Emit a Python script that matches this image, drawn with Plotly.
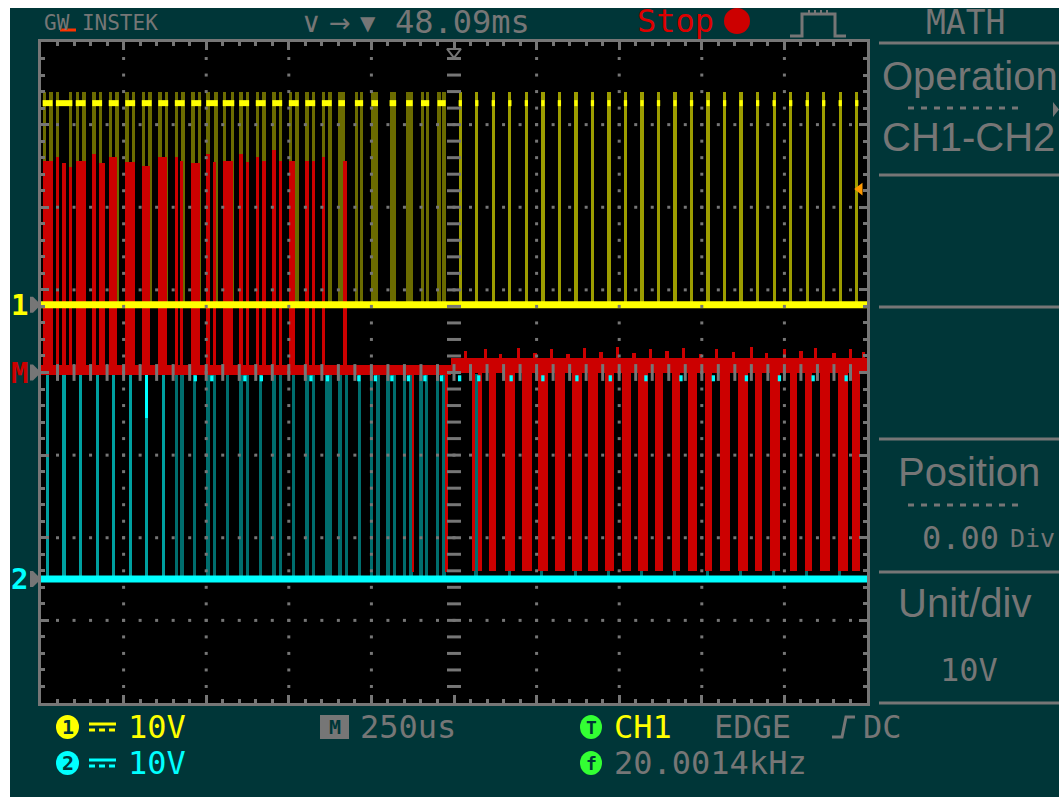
import numpy as np
import plotly.graph_objects as go

# ---------------------------------------------------------------- screen
W, H = 1059, 797
GRID_L, GRID_R, GRID_T, GRID_B = 41, 867, 42, 703

US_PER_DIV = 250          # time base
V_PER_DIV = 10            # both channels and math at 10 V/div
H_DIVS, V_DIVS = 10, 8
LCD_COL_US = 10           # one LCD column of the scope display

# vertical positions of the traces (divisions from screen centre)
CH1_POS_DIV = 0.82
CH2_POS_DIV = -2.5
MATH_POS_DIV = 0.0

CH1_HIGH_V, CH1_PEAK_V = 24.4, 25.8
CH2_HIGH_V, CH2_PEAK_V = 24.3, 24.8
TRIG_LEVEL_V = 14.0

# ---------------------------------------------------------------- CH1 pulses (us)
ch1_rise_us = [5, 45, 105, 155, 205, 255, 305, 355, 405, 455, 500, 550, 600, 650, 700,
               750, 800, 850, 900, 950, 1000, 1055, 1105, 1150, 1200,
               1264, 1314, 1364, 1414, 1464, 1514, 1564, 1614, 1664, 1714, 1764, 1814,
               1864, 1914, 1964, 2014, 2064, 2114, 2164, 2214, 2264, 2314, 2364, 2414, 2464]
ch1_fall_us = [35, 95, 135, 185, 235, 285, 335, 385, 435, 485, 535, 585, 630, 680, 730,
               780, 830, 880, 920, 975, 1020, 1075, 1125, 1175, 1225,
               1273, 1323, 1373, 1423, 1473, 1523, 1573, 1623, 1673, 1723, 1773, 1823,
               1873, 1923, 1973, 2023, 2073, 2123, 2173, 2223, 2273, 2323, 2373, 2423, 2473]

# ---------------------------------------------------------------- CH2 pulses (us)
ch2_rise_us = [15, 65, 115, 165, 215, 265, 315, 365, 405, 460, 500, 560, 600, 660, 700,
               760, 800, 860, 900, 960, 995, 1045, 1095, 1145, 1195,
               1312, 1412, 1510, 1612, 1712, 1812, 1912, 2012, 2112, 2212, 2312, 2412]
ch2_fall_us = [22, 72, 122, 172, 222, 272, 322, 372, 432, 470, 530, 568, 630, 668, 730,
               768, 830, 880, 930, 968, 1025, 1075, 1125, 1172, 1225,
               1322, 1422, 1520, 1622, 1722, 1822, 1922, 2022, 2122, 2222, 2322, 2422]
# bright CH2 high-level dots that show at the top of the pulses
ch2_top_us = [462, 512, 612, 662, 812, 862, 957, 1007, 1057, 1107, 1157, 1207,
              1262, 1320, 1418, 1514, 1617, 1718, 1826, 1932, 2030, 2130, 2230, 2332, 2432]
# a bright stretch of one falling edge
ch2_bright_edge_us = [315]
ch2_bright_edge_low_v = [19.5]
CH2_BRIGHT_EDGES_BEFORE_US = 400

# ---------------------------------------------------------------- MATH (CH1-CH2) blocks
math_start_us = [5, 45, 65, 85, 105, 155, 175, 205, 255, 305, 355, 405, 420, 455, 500,
                 520, 550, 600, 620, 650, 670, 700, 720, 750, 800, 820, 850, 915,
                 1122, 1222, 1304, 1322, 1356, 1404, 1456, 1504, 1556, 1607, 1656, 1707,
                 1758, 1807, 1858, 1910, 1958, 2010, 2055, 2110, 2161, 2206, 2267, 2312,
                 2358, 2412, 2455]
math_end_us = [35, 55, 75, 95, 135, 165, 195, 230, 285, 330, 380, 415, 430, 480, 510,
               530, 580, 610, 630, 660, 680, 710, 730, 770, 810, 830, 860, 925,
               1130, 1232, 1313, 1335, 1377, 1435, 1486, 1535, 1586, 1637, 1686, 1734,
               1786, 1837, 1883, 1934, 1986, 2031, 2085, 2140, 2182, 2237, 2288, 2334,
               2388, 2443, 2479]
math_level_v = [25.6, 26.1, 25.3, 24.9, 25.6, 26.5, 25.3, 26.1, 25.5, 25.0, 26.1, 26.1,
                25.6, 25.3, 26.5, 25.5, 25.6, 26.5, 25.5, 26.1, 25.6, 26.9, 25.6, 25.6,
                25.6, 25.6, 26.1, 25.6,
                -24.1, -24.1, -24.0, -24.0, -24.0, -24.0, -24.0, -24.0, -24.0, -24.0,
                -24.0, -24.0, -24.0, -24.0, -24.0, -24.0, -24.0, -24.0, -24.0, -24.0,
                -24.0, -24.0, -24.0, -24.0, -24.0, -24.0, -24.0]
# the noisy band the math trace draws around 0 V
math_band_start_us = [0, 1240]
math_band_end_us = [1240, 2500]
math_band_low_v = [-0.3, 0.0]
math_band_high_v = [0.9, 1.7]
# small excursions above the band
math_bump_start_us = [1240, 1280, 1340, 1385, 1440, 1490, 1540, 1590, 1640, 1690, 1740, 1790,
                      1840, 1890, 1940, 1990, 2040, 2090, 2145, 2190, 2245, 2295, 2340, 2395,
                      2445, 2485]
math_bump_v = [1.8, 2.6, 2.8, 2.2, 3.0, 2.4, 2.9, 2.2, 3.0, 2.5, 3.1, 2.4,
               2.9, 2.6, 3.0, 2.3, 2.8, 2.5, 3.1, 2.4, 2.9, 2.6, 3.0, 2.4, 2.8, 2.5]

# ---------------------------------------------------------------- colours
TEAL_BG = "#003638"
GRAY = "#767676"
YELLOW = "#ffff00"
OLIVE_DIM = "#6b6b00"
OLIVE = "#9c9c00"
CYAN = "#00ffff"
TEAL_LIGHT = "#00a0a0"
TEAL_DIM = "#006e6e"
RED = "#cc0000"
ORANGE = "#ff9900"
GREEN = "#33ff33"
MONO = "DejaVu Sans Mono"
SANS = "Liberation Sans"

T_END = H_DIVS * US_PER_DIV


def vdiv(volts, pos):
    return pos + volts / V_PER_DIV


def fx(px):
    return px / W


def fy(py):
    return 1 - py / H


def edge_columns(rises, falls):
    """Centres of the LCD columns that hold the rising and falling edges."""
    out = []
    for r, f in zip(rises, falls):
        out.append((r + LCD_COL_US / 2, r, f))
        if f - r > LCD_COL_US:
            out.append((f - LCD_COL_US / 2, r, f))
    return out


def level_segments(starts, ends, level):
    xs, ys = [], []
    for s, e in zip(starts, ends):
        xs += [s, max(e, s + LCD_COL_US), None]
        ys += [level, level, None]
    return xs, ys


fig = go.Figure()

# ---------------- CH1
z1 = CH1_POS_DIV
cols = edge_columns(ch1_rise_us, ch1_fall_us)
fig.add_trace(go.Bar(
    x=[c[0] for c in cols], y=[vdiv(CH1_PEAK_V, 0)] * len(cols), base=z1,
    width=LCD_COL_US,
    marker=dict(color=[OLIVE if (f - r) <= LCD_COL_US else OLIVE_DIM for _, r, f in cols],
                line=dict(width=0)),
    hoverinfo="skip", showlegend=False))
fig.add_trace(go.Scatter(x=[0, T_END], y=[z1, z1], mode="lines",
                         line=dict(color=YELLOW, width=7), hoverinfo="skip", showlegend=False))
sx, sy = level_segments(ch1_rise_us, ch1_fall_us, vdiv(CH1_HIGH_V, z1))
fig.add_trace(go.Scatter(x=sx, y=sy, mode="lines", line=dict(color=YELLOW, width=6),
                         hoverinfo="skip", showlegend=False))

# ---------------- CH2 edges (under the math trace)
z2 = CH2_POS_DIV
cols = edge_columns(ch2_rise_us, ch2_fall_us)
fig.add_trace(go.Bar(
    x=[c[0] for c in cols], y=[vdiv(CH2_PEAK_V, 0)] * len(cols), base=z2,
    width=LCD_COL_US,
    marker=dict(color=[TEAL_LIGHT if r < CH2_BRIGHT_EDGES_BEFORE_US else TEAL_DIM
                       for _, r, f in cols], line=dict(width=0)),
    hoverinfo="skip", showlegend=False))
fig.add_trace(go.Bar(
    x=[t + LCD_COL_US / 2 for t in ch2_bright_edge_us], width=LCD_COL_US,
    y=[(CH2_PEAK_V - lo) / V_PER_DIV for lo in ch2_bright_edge_low_v],
    base=[vdiv(lo, z2) for lo in ch2_bright_edge_low_v],
    marker=dict(color=CYAN, line=dict(width=0)), hoverinfo="skip", showlegend=False))

# ---------------- MATH
fig.add_trace(go.Bar(
    x=[(s + e) / 2 for s, e in zip(math_band_start_us, math_band_end_us)],
    width=[e - s for s, e in zip(math_band_start_us, math_band_end_us)],
    y=[(hi - lo) / V_PER_DIV for lo, hi in zip(math_band_low_v, math_band_high_v)],
    base=[vdiv(lo, MATH_POS_DIV) for lo in math_band_low_v],
    marker=dict(color=RED, line=dict(width=0)), hoverinfo="skip", showlegend=False))
fig.add_trace(go.Bar(
    x=[s + LCD_COL_US / 2 for s in math_bump_start_us], width=LCD_COL_US,
    y=[v / V_PER_DIV for v in math_bump_v], base=MATH_POS_DIV,
    marker=dict(color=RED, line=dict(width=0)), hoverinfo="skip", showlegend=False))
fig.add_trace(go.Bar(
    x=[(s + e) / 2 for s, e in zip(math_start_us, math_end_us)],
    width=[e - s for s, e in zip(math_start_us, math_end_us)],
    y=[v / V_PER_DIV for v in math_level_v], base=MATH_POS_DIV,
    marker=dict(color=RED, line=dict(width=0)), hoverinfo="skip", showlegend=False))

# ---------------- CH2 levels (drawn over the math trace)
fig.add_trace(go.Scatter(x=[0, T_END], y=[z2, z2], mode="lines",
                         line=dict(color=CYAN, width=7), hoverinfo="skip", showlegend=False))
sx, sy = level_segments(ch2_top_us, ch2_top_us, vdiv(CH2_HIGH_V, z2))
fig.add_trace(go.Scatter(x=sx, y=sy, mode="lines", line=dict(color=CYAN, width=6),
                         hoverinfo="skip", showlegend=False))

# ---------------- graticule dots and centre scales
minor_y = np.round(np.arange(-V_DIVS / 2, V_DIVS / 2 + 1e-9, 0.2), 3)[1:-1]
minor_x = np.arange(0, T_END + 1e-9, US_PER_DIV / 5)[1:-1]
gx, gy = [], []
for i in range(1, H_DIVS):
    if i != H_DIVS // 2:
        gx += [i * US_PER_DIV] * len(minor_y)
        gy += list(minor_y)
for j in range(-V_DIVS // 2 + 1, V_DIVS // 2):
    if j != 0:
        gx += list(minor_x)
        gy += [j] * len(minor_x)
fig.add_trace(go.Scatter(x=gx, y=gy, mode="markers",
                         marker=dict(symbol="square", size=3, color=GRAY, line=dict(width=0)),
                         hoverinfo="skip", showlegend=False))
fig.add_trace(go.Scatter(x=[T_END / 2] * len(minor_y), y=minor_y, mode="markers",
                         marker=dict(symbol="line-ew", size=10, color=GRAY,
                                     line=dict(width=3, color=GRAY)),
                         hoverinfo="skip", showlegend=False))
fig.add_trace(go.Scatter(x=minor_x, y=[0] * len(minor_x), mode="markers",
                         marker=dict(symbol="line-ns", size=12, color=GRAY,
                                     line=dict(width=3, color=GRAY)),
                         hoverinfo="skip", showlegend=False))

# trigger position (top) and trigger level (right edge)
fig.add_trace(go.Scatter(x=[T_END / 2], y=[V_DIVS / 2 - 0.12], mode="markers",
                         marker=dict(symbol="triangle-down-open", size=12, color=GRAY,
                                     line=dict(width=2, color=GRAY)),
                         hoverinfo="skip", showlegend=False))
fig.add_trace(go.Scatter(x=[T_END - 22], y=[vdiv(TRIG_LEVEL_V, CH1_POS_DIV)], mode="markers",
                         marker=dict(symbol="triangle-left", size=11, color=ORANGE,
                                     line=dict(width=0)),
                         hoverinfo="skip", showlegend=False))

# ---------------------------------------------------------------- axes
axis_common = dict(showgrid=False, zeroline=False, showticklabels=False,
                   showline=True, mirror="allticks", linecolor=GRAY, linewidth=3,
                   ticks="inside", ticklen=8, tickwidth=3, tickcolor=GRAY,
                   tickmode="linear", fixedrange=True)
fig.update_xaxes(range=[0, T_END], domain=[fx(GRID_L), fx(GRID_R)], tick0=0, dtick=US_PER_DIV,
                 minor=dict(ticks="inside", dtick=US_PER_DIV / 5, ticklen=4, tickwidth=3,
                            tickcolor=GRAY),
                 **axis_common)
fig.update_yaxes(range=[-V_DIVS / 2, V_DIVS / 2], domain=[fy(GRID_B), fy(GRID_T)], tick0=0,
                 dtick=1, minor=dict(ticks="inside", dtick=0.2, ticklen=4, tickwidth=3,
                                     tickcolor=GRAY),
                 **axis_common)

# ---------------------------------------------------------------- frame and menu
shapes = [
    dict(type="rect", xref="paper", yref="paper", x0=0, x1=1, y0=fy(8), y1=1,
         fillcolor="white", line=dict(width=0), layer="below"),
    dict(type="rect", xref="paper", yref="paper", x0=0, x1=fx(10), y0=0, y1=1,
         fillcolor="white", line=dict(width=0), layer="below"),
]
for ly in [43, 175, 307, 439, 572, 703]:
    shapes.append(dict(type="line", xref="paper", yref="paper", x0=fx(879), x1=1,
                       y0=fy(ly), y1=fy(ly), line=dict(color=GRAY, width=3)))
for ly in [108, 505]:
    shapes.append(dict(type="line", xref="paper", yref="paper", x0=fx(908), x1=fx(1022),
                       y0=fy(ly), y1=fy(ly), line=dict(color=GRAY, width=3, dash="6px,7px")))


def path(points, close=False):
    p = "M " + " L ".join(f"{fx(x):.5f},{fy(y):.5f}" for x, y in points)
    return p + (" Z" if close else "")


# stop indicator dot
shapes.append(dict(type="circle", xref="paper", yref="paper", x0=fx(724), x1=fx(750),
                   y0=fy(34), y1=fy(8), fillcolor="#cc0000", line=dict(width=0)))
# acquisition icon
shapes.append(dict(type="path", xref="paper", yref="paper",
                   path=path([(790, 36), (802, 36), (802, 14), (835, 14), (835, 36), (846, 36)]),
                   line=dict(color=GRAY, width=3)))
for tx in [809, 815, 821, 827]:
    shapes.append(dict(type="line", xref="paper", yref="paper", x0=fx(tx), x1=fx(tx),
                       y0=fy(14), y1=fy(10), line=dict(color=GRAY, width=2)))
# menu page arrow
shapes.append(dict(type="path", xref="paper", yref="paper",
                   path=path([(1053, 102), (1059, 109.5), (1053, 117)], close=True),
                   fillcolor=GRAY, line=dict(width=0)))
# GW underline
shapes.append(dict(type="line", xref="paper", yref="paper", x0=fx(60), x1=fx(76),
                   y0=fy(30), y1=fy(30), line=dict(color="#ff3300", width=3)))
# channel ground markers on the left edge
for pos in [CH1_POS_DIV, MATH_POS_DIV, CH2_POS_DIV]:
    d = 8 / ((GRID_B - GRID_T) / V_DIVS)
    shapes.append(dict(type="path", xref="paper", yref="y",
                       path=(f"M {fx(30)},{pos - d} L {fx(33)},{pos - d} L {fx(41)},{pos} "
                             f"L {fx(33)},{pos + d} L {fx(30)},{pos + d} Z"),
                       fillcolor=GRAY, line=dict(width=0)))
# channel badges and coupling symbols (solid over dashed)
for cy, col in [(727, YELLOW), (763, CYAN)]:
    shapes.append(dict(type="circle", xref="paper", yref="paper", x0=fx(56), x1=fx(79),
                       y0=fy(cy + 12), y1=fy(cy - 12), fillcolor=col, line=dict(width=0)))
    shapes.append(dict(type="line", xref="paper", yref="paper", x0=fx(89), x1=fx(116),
                       y0=fy(cy - 3), y1=fy(cy - 3), line=dict(color=col, width=3)))
    shapes.append(dict(type="line", xref="paper", yref="paper", x0=fx(89), x1=fx(116),
                       y0=fy(cy + 3), y1=fy(cy + 3), line=dict(color=col, width=3, dash="6px,4px")))
# time base badge and trigger badges
shapes.append(dict(type="rect", xref="paper", yref="paper", x0=fx(320), x1=fx(349),
                   y0=fy(739), y1=fy(715), fillcolor=GRAY, line=dict(width=0)))
for cy in [727, 763]:
    shapes.append(dict(type="circle", xref="paper", yref="paper", x0=fx(580), x1=fx(602),
                       y0=fy(cy + 12), y1=fy(cy - 12), fillcolor=GREEN, line=dict(width=0)))
# rising edge slope symbol
shapes.append(dict(type="path", xref="paper", yref="paper",
                   path=path([(832, 737), (842, 737), (846, 717), (855, 717)]),
                   line=dict(color=GRAY, width=3)))

annotations = []


def text(s, x, y, size, color, family=MONO, xanchor="left", **kw):
    annotations.append(dict(text=s, x=fx(x), y=fy(y), xref="paper", yref="paper",
                            xanchor=xanchor, yanchor="middle", showarrow=False,
                            font=dict(family=family, size=size, color=color), **kw))


# header
text("GW INSTEK", 42, 23, 21, GRAY)
text("∨", 311, 23, 28, GRAY, family="DejaVu Sans", xanchor="center")
text("→", 340, 23, 26, GRAY, family="DejaVu Sans", xanchor="center")
text("▼", 368, 23, 20, GRAY, family="DejaVu Sans", xanchor="center")
text("48.09ms", 393, 22, 32, GRAY)
text("Stop", 635, 21, 32, "#dd0000")
text("MATH", 924, 23, 33, GRAY)

# menu
text("Operation", 880, 76, 40, GRAY, family=SANS)
text("CH1-CH2", 880, 137, 40, GRAY, family=SANS)
text("Position", 896, 472, 40, GRAY, family=SANS)
text("0.00", 920, 538, 32, GRAY)
text("Div", 1008, 538, 25, GRAY)
text("Unit/div", 896, 603, 40, GRAY, family=SANS)
text("10V", 938, 670, 32, GRAY)

# channel labels on the left edge
for lbl, pos, col in [("1", CH1_POS_DIV, YELLOW), ("M", MATH_POS_DIV, RED), ("2", CH2_POS_DIV, CYAN)]:
    annotations.append(dict(text=f"<b>{lbl}</b>", x=fx(19), y=pos, xref="paper", yref="y",
                            xanchor="center", yanchor="middle", showarrow=False,
                            font=dict(family=MONO, size=29, color=col)))

# status line
text("<b>1</b>", 67.5, 727, 20, TEAL_BG, xanchor="center")
text("10V", 126, 727, 32, YELLOW)
text("<b>2</b>", 67.5, 763, 20, TEAL_BG, xanchor="center")
text("10V", 126, 763, 32, CYAN)
text("<b>M</b>", 334.5, 727, 20, TEAL_BG, xanchor="center")
text("250us", 358, 727, 32, GRAY)
text("<b>T</b>", 591, 727, 18, TEAL_BG, xanchor="center")
text("CH1", 612, 727, 32, YELLOW)
text("EDGE", 712, 727, 32, GRAY)
text("DC", 861, 727, 32, GRAY)
text("<b>f</b>", 591, 763, 18, TEAL_BG, xanchor="center")
text("20.0014kHz", 612, 763, 32, GRAY)

fig.update_layout(
    width=W, height=H, margin=dict(l=0, r=0, t=0, b=0),
    paper_bgcolor=TEAL_BG, plot_bgcolor="black",
    barmode="overlay", bargap=0, showlegend=False, hovermode=False,
    shapes=shapes, annotations=annotations,
)

fig.write_html("out.html")
